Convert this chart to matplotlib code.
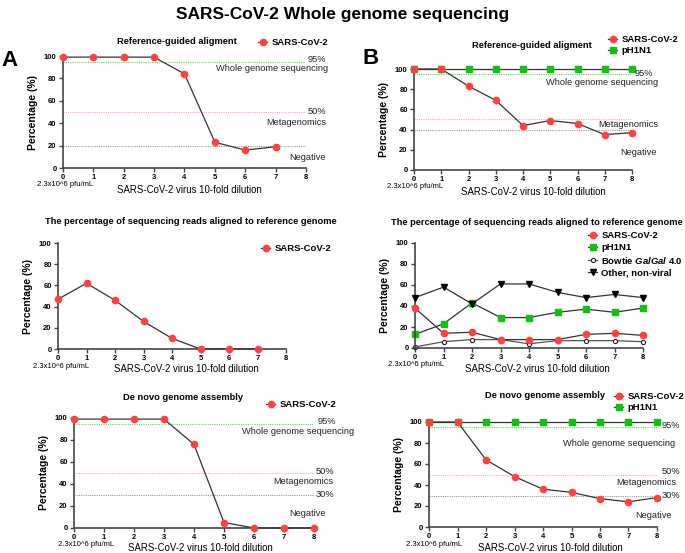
import matplotlib
matplotlib.use("Agg")
import matplotlib.pyplot as plt

plt.rcParams['font.family'] = ['Liberation Sans', 'DejaVu Sans']
plt.rcParams['mathtext.fontset'] = 'custom'
plt.rcParams['mathtext.it'] = 'Liberation Sans:italic:bold'
plt.rcParams['mathtext.rm'] = 'Liberation Sans:bold'

W, H = 685, 553

# ---------------- data ----------------
x_ticks = [0, 1, 2, 3, 4, 5, 6, 7, 8]

a_ref_x = [0, 1, 2, 3, 4, 5, 6, 7]
a_ref_sars = [99, 99, 99, 99, 84, 23, 16, 19]

b_ref_x = [0, 1, 2, 3, 4, 5, 6, 7, 8]
b_ref_sars = [100, 100, 83, 69, 44, 49, 46, 35, 37]
b_ref_h1n1 = [100, 100, 100, 100, 100, 100, 100, 100, 100]

a_reads_x = [0, 1, 2, 3, 4, 5, 6, 7]
a_reads_sars = [47, 62, 46, 26, 10, 0, 0, 0]

b_reads_x = [0, 1, 2, 3, 4, 5, 6, 7, 8]
b_reads_sars = [38, 14, 15, 8, 8, 8, 13, 14, 12]
b_reads_h1n1 = [13, 23, 43, 29, 29, 34, 37, 34, 38]
b_reads_bowtie = [1, 6, 8, 8, 4, 7, 7, 7, 6]
b_reads_other = [48, 58, 42, 61, 61, 53, 48, 51, 48]

a_denovo_x = [0, 1, 2, 3, 4, 5, 6, 7, 8]
a_denovo_sars = [99, 99, 99, 99, 76, 5, 0, 0, 0]

b_denovo_x = [0, 1, 2, 3, 4, 5, 6, 7, 8]
b_denovo_sars = [100, 100, 64, 48, 36, 33, 27, 24, 28]
b_denovo_h1n1 = [100, 100, 100, 100, 100, 100, 100, 100, 100]

thr_wgs = 95
thr_meta = 50
thr_neg_a_ref = 20
thr_neg_b_ref = 40
thr_neg_denovo = 30

# ---------------- style ----------------
RED = '#ff4040'
GREEN = '#11c011'
LINE = '#333333'
SPINE = '#444444'
ANN = 6.7
TITLE = 6.7
LEG = 6.8

fig = plt.figure(figsize=(W / 100, H / 100), dpi=100)


def fx(x):
    return x / W


def fy(y):
    return 1 - y / H


def make_ax(x0, x8, y100, y0):
    ax = fig.add_axes([fx(x0), fy(y0), (x8 - x0) / W, (y0 - y100) / H])
    ax.set_xlim(0, 8)
    ax.set_ylim(0, 100)
    for s in ['top', 'right']:
        ax.spines[s].set_visible(False)
    for s in ['left', 'bottom']:
        ax.spines[s].set_color(SPINE)
        ax.spines[s].set_linewidth(1.2)
    ax.set_xticks(x_ticks)
    ax.set_yticks([0, 20, 40, 60, 80, 100])
    ax.tick_params(axis='both', labelsize=5.5, length=3, width=1, color=SPINE, pad=1.5)
    for lab in ax.get_xticklabels() + ax.get_yticklabels():
        lab.set_fontweight('bold')
    ax.set_ylabel('Percentage (%)', fontsize=7.5, fontweight='bold', labelpad=4)
    return ax


def thresholds(ax, neg):
    ax.axhline(thr_wgs, color='#55dd55', lw=0.8, ls=(0, (1, 1)), zorder=1)
    ax.axhline(thr_meta, color='#ffaaaa', lw=0.8, ls=(0, (1, 1)), zorder=1)
    ax.axhline(neg, color='#999999', lw=0.8, ls=(0, (1, 1)), zorder=1)


def sars(ax, x, y):
    return ax.plot(x, y, color=LINE, lw=0.9, marker='o', ms=4.5, mfc=RED, mec=RED,
                   clip_on=False, zorder=3, label='SARS-CoV-2')[0]


def h1n1(ax, x, y):
    return ax.plot(x, y, color=LINE, lw=0.9, marker='s', ms=4.5, mfc=GREEN, mec=GREEN,
                   clip_on=False, zorder=2, label='pH1N1')[0]


def xlabels(xc, y, px0, py):
    fig.text(fx(xc), fy(y), 'SARS-CoV-2 virus 10-fold dilution', fontsize=6.9,
             ha='center', va='center')
    fig.text(fx(px0), fy(py), '2.3x10^6 pfu/mL', fontsize=5.5, ha='left', va='center')


def legend(handles, x, y, spacing=0.3):
    fig.legend(handles=handles, loc='upper left', bbox_to_anchor=(fx(x), fy(y)),
               frameon=False, prop={'weight': 'bold', 'size': LEG}, handlelength=1.0,
               handletextpad=0.4, labelspacing=spacing, borderpad=0, borderaxespad=0)


def ftext(x, y, s, ha='right'):
    fig.text(fx(x), fy(y), s, fontsize=ANN, ha=ha, va='center', color='#222222')


def title(x, y, s):
    fig.text(fx(x), fy(y), s, fontsize=TITLE, fontweight='bold', ha='center', va='center')


# main title and panel letters
fig.text(0.5, fy(14), 'SARS-CoV-2 Whole genome sequencing', fontsize=12.5,
         fontweight='bold', ha='center', va='center')
fig.text(fx(1), fy(60), 'A', fontsize=16, fontweight='bold', ha='left', va='center')
fig.text(fx(362), fy(58), 'B', fontsize=16, fontweight='bold', ha='left', va='center')

# ---------- A top ----------
ax = make_ax(63, 306, 56, 168)
thresholds(ax, thr_neg_a_ref)
h = sars(ax, a_ref_x, a_ref_sars)
title(177, 41, 'Reference-guided aligment')
legend([h], 258, 38)
ftext(326, 59.5, '95%')
ftext(328, 68.5, 'Whole genome sequencing')
ftext(326, 111.5, '50%')
ftext(326, 122.5, 'Metagenomics')
ftext(326, 157, 'Negative')
xlabels(189, 190, 37, 185)

# ---------- B top ----------
ax = make_ax(414, 632, 69, 170)
thresholds(ax, thr_neg_b_ref)
h2 = h1n1(ax, b_ref_x, b_ref_h1n1)
h1 = sars(ax, b_ref_x, b_ref_sars)
title(532, 46, 'Reference-guided aligment')
legend([h1, h2], 608, 35, spacing=0.25)
ftext(653, 73.5, '95%')
ftext(658, 82, 'Whole genome sequencing')
ftext(658, 124.5, 'Metagenomics')
ftext(657, 152, 'Negative')
xlabels(533, 192, 387, 187)

# ---------- A middle ----------
ax = make_ax(58, 286, 243, 349)
h = sars(ax, a_reads_x, a_reads_sars)
title(191, 221, 'The percentage of sequencing reads aligned to reference genome')
legend([h], 261, 244)
xlabels(186, 369, 33, 367)

# ---------- B middle ----------
ax = make_ax(415, 643, 243, 348)
hb = ax.plot(b_reads_x, b_reads_bowtie, color='#555555', lw=0.9, marker='o', ms=3,
             mfc='white', mec='#222222', mew=0.8, clip_on=False, zorder=2,
             label='Bowtie $\\mathit{GalGal}$ 4.0')[0]
h1 = sars(ax, b_reads_x, b_reads_sars)
h2 = h1n1(ax, b_reads_x, b_reads_h1n1)
ho = ax.plot(b_reads_x, b_reads_other, color=LINE, lw=0.9, marker='v', ms=4.5,
             mfc='black', mec='black', clip_on=False, zorder=3,
             label='Other, non-viral')[0]
title(537, 222, 'The percentage of sequencing reads aligned to reference genome')
legend([h1, h2, hb, ho], 588, 231, spacing=0.3)
xlabels(537, 369, 388, 365)

# ---------- A bottom ----------
ax = make_ax(74, 314, 418, 528)
thresholds(ax, thr_neg_denovo)
h = sars(ax, a_denovo_x, a_denovo_sars)
title(183, 397, 'De novo genome assembly')
legend([h], 266, 400)
ftext(336, 421.5, '95%')
ftext(242, 431.5, 'Whole genome sequencing', ha='left')
ftext(334, 471.5, '50%')
ftext(333, 482, 'Metagenomics')
ftext(334, 494.7, '30%')
ftext(326, 513, 'Negative')
xlabels(200, 548, 58, 544)

# ---------- B bottom ----------
ax = make_ax(429, 657, 422, 527)
thresholds(ax, thr_neg_denovo)
h2 = h1n1(ax, b_denovo_x, b_denovo_h1n1)
h1 = sars(ax, b_denovo_x, b_denovo_sars)
title(545, 395, 'De novo genome assembly')
legend([h1, h2], 614, 392, spacing=0.25)
ftext(680, 425, '95%')
ftext(675, 443.7, 'Whole genome sequencing')
ftext(680, 471.7, '50%')
ftext(676, 482.5, 'Metagenomics')
ftext(680, 495.7, '30%')
ftext(672, 515.5, 'Negative')
xlabels(550, 548, 406, 544)

fig.savefig('out.png', dpi=100)
